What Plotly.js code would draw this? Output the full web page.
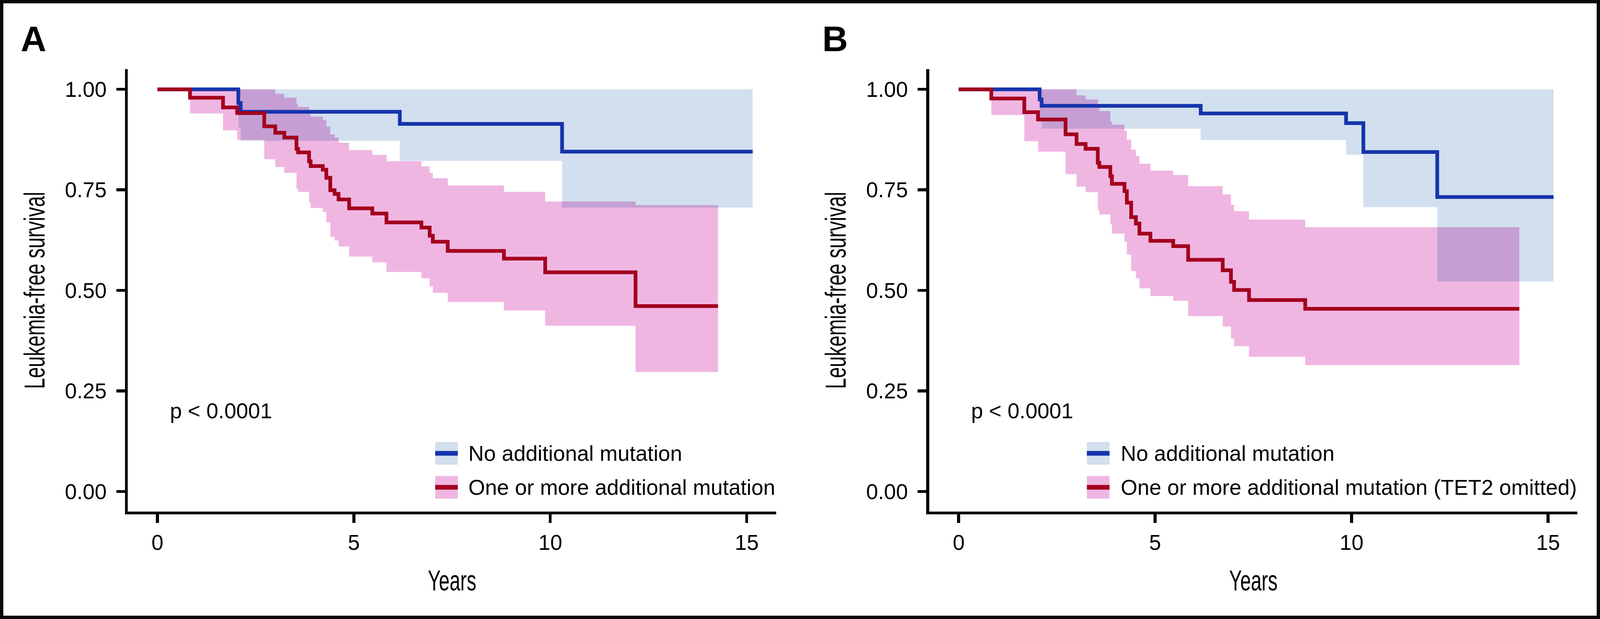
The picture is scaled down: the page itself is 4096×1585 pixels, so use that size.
<!DOCTYPE html>
<html>
<head>
<meta charset="utf-8">
<script src="https://cdn.plot.ly/plotly-3.0.1.min.js"></script>
<style>
html,body{margin:0;padding:0;background:#ffffff;}
#chart{width:4096px;height:1585px;}
/* overlapping confidence bands blend like the original (multiply) */
.js-fill{mix-blend-mode:multiply;}
</style>
</head>
<body>
<div id="chart"></div>
<script>
// ---------------- DATA ----------------
// Panel A – "No additional mutation" (blue)
const aBlueTime  = [0, 2.06, 2.12, 6.17, 10.30, 15.15];
const aBlueSurv  = [1, 0.966, 0.944, 0.914, 0.845, 0.845];
const aBlueLower = [1, 0.905, 0.872, 0.822, 0.706, 0.706];
const aBlueUpper = [1, 1, 1, 1, 1, 1];

// Panel A – "One or more additional mutation" (red)
const aRedTime  = [0, 0.83, 1.67, 2.03, 2.72, 3.00, 3.23, 3.54, 3.58, 3.86, 3.90, 4.21, 4.30, 4.40, 4.51, 4.61, 4.88, 5.47, 5.83, 6.72, 6.93, 7.01, 7.39, 8.82, 9.87, 12.17, 14.27];
const aRedSurv  = [1.000, 0.979, 0.955, 0.941, 0.908, 0.892, 0.880, 0.852, 0.843, 0.821, 0.809, 0.800, 0.780, 0.749, 0.740, 0.726, 0.704, 0.691, 0.669, 0.656, 0.636, 0.621, 0.598, 0.579, 0.545, 0.461, 0.461];
const aRedUpper = [1, 1, 1, 1, 1, 0.989, 0.979, 0.963, 0.956, 0.940, 0.932, 0.924, 0.907, 0.888, 0.880, 0.867, 0.849, 0.837, 0.821, 0.808, 0.792, 0.779, 0.761, 0.745, 0.721, 0.712, 0.712];
const aRedLower = [1, 0.940, 0.898, 0.874, 0.826, 0.807, 0.792, 0.753, 0.745, 0.718, 0.705, 0.695, 0.669, 0.633, 0.624, 0.609, 0.584, 0.570, 0.546, 0.530, 0.510, 0.494, 0.471, 0.450, 0.412, 0.297, 0.297];

// Panel B – "No additional mutation" (blue)
const bBlueTime  = [0, 2.06, 2.11, 6.16, 9.86, 10.30, 12.18, 15.14];
const bBlueSurv  = [1, 0.975, 0.959, 0.940, 0.916, 0.844, 0.732, 0.732];
const bBlueLower = [1, 0.930, 0.902, 0.874, 0.837, 0.707, 0.522, 0.522];
const bBlueUpper = [1, 1, 1, 1, 1, 1, 1, 1];

// Panel B – "One or more additional mutation (TET2 omitted)" (red)
const bRedTime  = [0, 0.83, 1.67, 2.02, 2.72, 3.00, 3.23, 3.54, 3.58, 3.86, 3.90, 4.22, 4.28, 4.39, 4.51, 4.60, 4.88, 5.46, 5.84, 6.72, 6.93, 7.01, 7.39, 8.82, 14.27];
const bRedSurv  = [1.000, 0.977, 0.943, 0.925, 0.888, 0.864, 0.852, 0.817, 0.807, 0.784, 0.765, 0.747, 0.718, 0.682, 0.666, 0.641, 0.623, 0.610, 0.576, 0.550, 0.521, 0.501, 0.476, 0.454, 0.454];
const bRedUpper = [1, 1, 1, 1, 1, 0.985, 0.975, 0.955, 0.946, 0.920, 0.912, 0.897, 0.875, 0.850, 0.834, 0.815, 0.798, 0.787, 0.759, 0.739, 0.713, 0.697, 0.676, 0.657, 0.657];
const bRedLower = [1, 0.936, 0.871, 0.845, 0.789, 0.758, 0.744, 0.700, 0.689, 0.664, 0.641, 0.621, 0.589, 0.548, 0.530, 0.505, 0.486, 0.474, 0.436, 0.410, 0.380, 0.361, 0.335, 0.314, 0.314];

// Labels
const panelLabels = ["A", "B"];
const seriesNamesA = ["No additional mutation", "One or more additional mutation"];
const seriesNamesB = ["No additional mutation", "One or more additional mutation (TET2 omitted)"];
const pValueText = ["p < 0.0001", "p < 0.0001"];
const xTickVals = [0, 5, 10, 15];
const xTickText = ["0", "5", "10", "15"];
const yTickVals = [0, 0.25, 0.5, 0.75, 1];
const yTickText = ["0.00", "0.25", "0.50", "0.75", "1.00"];
const xTitle = "Years";
const yTitle = "Leukemia-free survival";

// ---------------- STYLE ----------------
const BLUE_LINE = "#1634AC";
const RED_LINE  = "#A3001E";
const BLUE_BAND = "rgb(210,223,238)";
const PINK_BAND = "rgb(240,182,226)";
const TXT = "#000000";
const MAIN_FONT = "Liberation Sans, Arial, Helvetica, sans-serif";
const TITLE_FONT = "Liberation Sans, Arial, Helvetica, sans-serif";
const W = 4096, H = 1585;

function bandTraces(t, lo, hi, color, xa, ya) {
  return [
    {x: t, y: lo, xaxis: xa, yaxis: ya, type: "scatter", mode: "lines",
     line: {width: 0, shape: "hv"}, hoverinfo: "skip", showlegend: false},
    {x: t, y: hi, xaxis: xa, yaxis: ya, type: "scatter", mode: "lines",
     line: {width: 0, shape: "hv"}, fill: "tonexty", fillcolor: color,
     hoverinfo: "skip", showlegend: false}
  ];
}
function curveTrace(t, s, color, name, xa, ya) {
  return {x: t, y: s, xaxis: xa, yaxis: ya, type: "scatter", mode: "lines", name: name,
          line: {color: color, width: 9.5, shape: "hv"}, showlegend: false};
}

const traces = [].concat(
  bandTraces(aBlueTime, aBlueLower, aBlueUpper, BLUE_BAND, "x", "y"),
  bandTraces(aRedTime, aRedLower, aRedUpper, PINK_BAND, "x", "y"),
  [curveTrace(aBlueTime, aBlueSurv, BLUE_LINE, seriesNamesA[0], "x", "y"),
   curveTrace(aRedTime, aRedSurv, RED_LINE, seriesNamesA[1], "x", "y")],
  bandTraces(bBlueTime, bBlueLower, bBlueUpper, BLUE_BAND, "x2", "y2"),
  bandTraces(bRedTime, bRedLower, bRedUpper, PINK_BAND, "x2", "y2"),
  [curveTrace(bBlueTime, bBlueSurv, BLUE_LINE, seriesNamesB[0], "x2", "y2"),
   curveTrace(bRedTime, bRedSurv, RED_LINE, seriesNamesB[1], "x2", "y2")]
);

function xAxis(domain, anchor) {
  return {
    domain: domain, anchor: anchor, range: [-0.75, 15.75], fixedrange: true,
    showline: true, linecolor: "#000", linewidth: 7.5, mirror: false,
    showgrid: false, zeroline: false,
    ticks: "outside", ticklen: 22, tickwidth: 7.5, tickcolor: "#000",
    tickvals: xTickVals, ticktext: xTickText, ticklabelstandoff: 3,
    tickfont: {family: MAIN_FONT, size: 55, color: TXT},
    title: {text: xTitle, standoff: 44, font: {family: TITLE_FONT, size: 74, color: TXT}},
    automargin: false
  };
}
function yAxis(domain, anchor) {
  return {
    domain: domain, anchor: anchor, range: [-0.05, 1.05], fixedrange: true,
    showline: true, linecolor: "#000", linewidth: 7.5, mirror: false,
    showgrid: false, zeroline: false,
    ticks: "outside", ticklen: 22, tickwidth: 7.5, tickcolor: "#000",
    tickvals: yTickVals, ticktext: yTickText, ticklabelstandoff: 14,
    tickfont: {family: MAIN_FONT, size: 55, color: TXT},
    title: {text: yTitle, standoff: 30, font: {family: TITLE_FONT, size: 74, color: TXT}},
    automargin: false
  };
}

const yDom = [0.17363, 0.88820];
const dA = [0.079956, 0.48513];
const dB = [0.58076, 0.98594];

function legendBits(xr, yr, keyX0, keyX1, textX, names) {
  const rows = [
    {y0: 120, y1: 178, yc: 149, band: BLUE_BAND, line: BLUE_LINE, name: names[0]},
    {y0: 33,  y1: 91,  yc: 62,  band: PINK_BAND, line: RED_LINE,  name: names[1]}
  ];
  const shapes = [], anns = [];
  rows.forEach(r => {
    shapes.push({type: "rect", xref: xr + " domain", yref: yr + " domain",
      xsizemode: "pixel", ysizemode: "pixel", xanchor: 1, yanchor: 0,
      x0: keyX0, x1: keyX1, y0: r.y0, y1: r.y1,
      fillcolor: r.band, line: {width: 0}, layer: "above"});
    shapes.push({type: "line", xref: xr + " domain", yref: yr + " domain",
      xsizemode: "pixel", ysizemode: "pixel", xanchor: 1, yanchor: 0,
      x0: keyX0, x1: keyX1, y0: r.yc, y1: r.yc,
      line: {color: r.line, width: 12}, layer: "above"});
    anns.push({xref: xr + " domain", yref: yr + " domain", x: 1, y: 0,
      xshift: textX, yshift: r.yc, xanchor: "left", yanchor: "middle",
      text: r.name, showarrow: false, font: {family: MAIN_FONT, size: 55, color: TXT}});
  });
  return {shapes, anns};
}

const legA = legendBits("x", "y", -873, -815, -790, seriesNamesA);
const legB = legendBits("x2", "y2", -1256, -1198, -1171, seriesNamesB);

const annotations = [
  {xref: "paper", yref: "paper", x: 86 / W, y: 1 - 99 / H, xanchor: "center", yanchor: "middle",
   text: panelLabels[0], showarrow: false, font: {family: MAIN_FONT, size: 91, color: TXT, weight: 700}},
  {xref: "paper", yref: "paper", x: 2138 / W, y: 1 - 99 / H, xanchor: "center", yanchor: "middle",
   text: panelLabels[1], showarrow: false, font: {family: MAIN_FONT, size: 91, color: TXT, weight: 700}},
  {xref: "x", yref: "y", x: 0.3, y: 0.2, xanchor: "left", yanchor: "middle",
   text: pValueText[0], showarrow: false, font: {family: MAIN_FONT, size: 55, color: TXT}},
  {xref: "x2", yref: "y2", x: 0.3, y: 0.2, xanchor: "left", yanchor: "middle",
   text: pValueText[1], showarrow: false, font: {family: MAIN_FONT, size: 55, color: TXT}}
].concat(legA.anns, legB.anns);

const shapes = [
  {type: "rect", xref: "paper", yref: "paper", x0: 0, x1: 1, y0: 0, y1: 1,
   line: {color: "#0a0a0a", width: 17}, fillcolor: "rgba(0,0,0,0)", layer: "above"}
].concat(legA.shapes, legB.shapes);

const layout = {
  width: W, height: H,
  margin: {l: 0, r: 0, t: 0, b: 0, pad: 0},
  paper_bgcolor: "#ffffff", plot_bgcolor: "#ffffff",
  showlegend: false,
  font: {family: MAIN_FONT, size: 55, color: TXT},
  xaxis: xAxis(dA, "y"), yaxis: yAxis(yDom, "x"),
  xaxis2: xAxis(dB, "y2"), yaxis2: yAxis(yDom, "x2"),
  annotations: annotations,
  shapes: shapes,
  hovermode: false
};

// the original axis titles use a condensed face: compress the glyphs to the original text length
function condenseTitles(gd) {
  const fit = (sel, len) => gd.querySelectorAll(sel).forEach(el => {
    el.setAttribute("textLength", len);
    el.setAttribute("lengthAdjust", "spacingAndGlyphs");
  });
  fit("text.ytitle", 505); fit("text.y2title", 505);
  fit("text.xtitle", 124); fit("text.x2title", 124);
}

Plotly.newPlot("chart", traces, layout, {displayModeBar: false, staticPlot: true})
  .then(condenseTitles);
</script>
</body>
</html>
